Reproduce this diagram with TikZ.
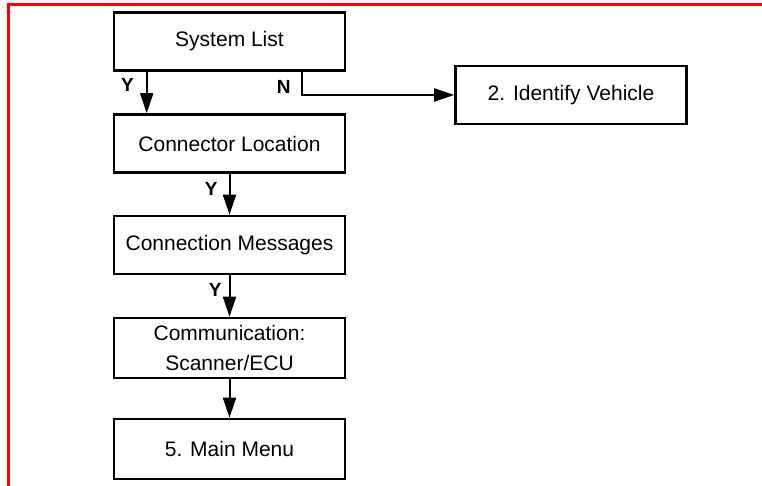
\documentclass[tikz,border=0pt]{standalone}
\usepackage{fontspec}
\setmainfont{Liberation Sans}
\usetikzlibrary{arrows.meta}
\begin{document}
\begin{tikzpicture}[x=1pt,y=-1pt]
\tikzstyle{every node}+=[inner sep=0pt]
\tikzstyle{stepbox}=[draw=black, line width=2.6pt, minimum width=231pt, minimum height=58pt, align=center, font=\fontsize{21}{30}\selectfont]
\tikzstyle{flow}=[draw=black, line width=2pt, -{Triangle[length=20pt,width=13pt]}]
\tikzstyle{yn}=[font=\fontsize{19}{19}\selectfont\bfseries]
\useasboundingbox (0,0) rectangle (762,486);
\draw [red, line width=3pt] (8.5,486) -- (8.5,4.7) -- (762,4.7);
\node [stepbox] (syslist) at (229.5,41.5) {System List};
\node [stepbox] (identify) at (571,95) {2. Identify Vehicle};
\node [stepbox] (connloc) at (229.5,143.5) {Connector Location};
\node [stepbox] (connmsg) at (229.5,245) {Connection Messages};
\node [stepbox, minimum height=60pt] (comm) at (229.5,348) {Communication:\\Scanner/ECU};
\node [stepbox, minimum height=60pt] (mainmenu) at (229.5,449) {5. Main Menu};
\draw [flow] ([xshift=34pt]syslist.south west) -- ([xshift=34pt]connloc.north west) node [yn, pos=0.33, left=12pt] {Y};
\draw [flow] ([xshift=189pt]syslist.south west) |- (identify.west) node [yn, pos=0.33, left=10pt] {N};
\draw [flow] (connloc) -- (connmsg) node [yn, pos=0.36, left=11pt] {Y};
\draw [flow] (connmsg) -- (comm) node [yn, pos=0.36, left=7pt] {Y};
\draw [flow] (comm) -- (mainmenu);
\end{tikzpicture}
\end{document}
